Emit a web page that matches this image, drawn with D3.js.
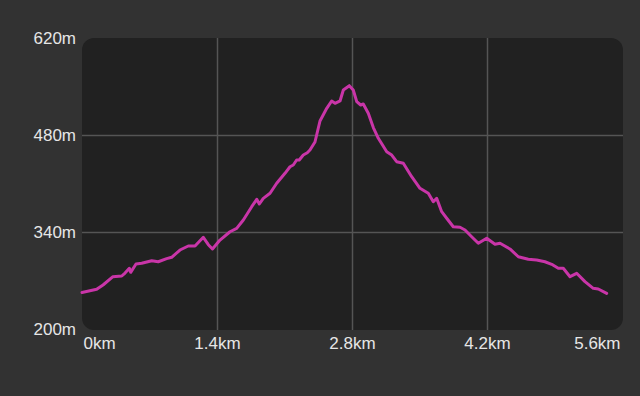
<!DOCTYPE html>
<html>
<head>
<meta charset="utf-8">
<script src="https://cdn.jsdelivr.net/npm/d3@7"></script>
<style>
  html, body { margin: 0; padding: 0; background: #323232; }
  svg { display: block; }
  text { font-family: "Liberation Sans", Arial, Helvetica, sans-serif; }
</style>
</head>
<body>
<svg id="chart" width="640" height="396"></svg>
<script>
const distanceKm = [0.00,0.152,0.218,0.321,0.412,0.446,0.491,0.505,0.560,0.619,0.723,0.791,0.878,0.930,1.016,1.102,1.172,1.258,1.310,1.353,1.431,1.535,1.604,1.673,1.760,1.812,1.839,1.880,1.950,2.019,2.105,2.157,2.191,2.226,2.253,2.295,2.336,2.364,2.416,2.468,2.538,2.589,2.624,2.676,2.710,2.772,2.813,2.849,2.890,2.917,2.969,3.021,3.073,3.160,3.212,3.263,3.332,3.419,3.505,3.591,3.643,3.678,3.730,3.782,3.850,3.920,3.972,4.041,4.110,4.197,4.283,4.335,4.438,4.525,4.628,4.715,4.801,4.871,4.939,4.991,5.061,5.130,5.216,5.302,5.354,5.441];
const elevationM = [252.7,257.3,263.5,275.5,276.5,280.8,287.6,281.8,293.8,294.8,298.6,297.1,301.5,303.5,314.0,319.8,319.8,332.3,321.7,315.5,328.4,340.4,345.3,357.3,376.5,387.2,380.4,388.6,395.9,410.3,424.7,434.2,436.7,443.9,443.9,451.1,454.4,458.3,469.9,500.2,518.5,529.1,525.8,529.1,545.0,551.2,545.0,528.1,523.3,524.7,511.3,490.8,475.2,455.9,451.1,441.5,439.2,419.8,403.1,395.9,383.7,388.6,369.3,359.8,347.6,346.8,342.9,333.2,323.7,330.9,322.2,323.7,315.5,304.3,300.6,299.6,297.1,293.4,287.6,287.6,275.5,280.4,268.3,258.7,257.7,251.5];
const xTicks = [0, 1.4, 2.8, 4.2, 5.6];
const xTickLabels = ["0km", "1.4km", "2.8km", "4.2km", "5.6km"];
const yTicks = [200, 340, 480, 620];
const yTickLabels = ["200m", "340m", "480m", "620m"];

const svg = d3.select("#chart");
const pLeft = 82, pRight = 622, pTop = 38, pBottom = 329;
const x = d3.scaleLinear().domain([0, 5.6]).range([pLeft, pRight]);
const y = d3.scaleLinear().domain([200, 620]).range([pBottom, pTop]);

// plot background
svg.append("rect")
  .attr("x", pLeft).attr("y", pTop)
  .attr("width", pRight - pLeft + 1).attr("height", pBottom - pTop + 1)
  .attr("rx", 12).attr("ry", 12)
  .attr("fill", "#212121");

// grid
const grid = svg.append("g").attr("stroke", "#555555").attr("stroke-width", 1.5);
grid.selectAll("line.v").data(xTicks.slice(1, -1)).join("line")
  .attr("x1", d => Math.round(x(d)) + 0.5).attr("x2", d => Math.round(x(d)) + 0.5)
  .attr("y1", pTop).attr("y2", pBottom + 1);
grid.selectAll("line.h").data(yTicks.slice(1, -1)).join("line")
  .attr("y1", d => Math.round(y(d)) + 0.5).attr("y2", d => Math.round(y(d)) + 0.5)
  .attr("x1", pLeft).attr("x2", pRight + 1);

// line
const pts = distanceKm.map((d, i) => [d, elevationM[i]]);
svg.append("path")
  .datum(pts)
  .attr("fill", "none")
  .attr("stroke", "#c935a8")
  .attr("stroke-width", 3)
  .attr("stroke-linejoin", "round")
  .attr("stroke-linecap", "round")
  .attr("d", d3.line().x(d => x(d[0])).y(d => y(d[1])));

// y axis labels
const yAxis = d3.axisLeft(y).tickValues(yTicks).tickSize(0).tickPadding(0)
  .tickFormat((d, i) => yTickLabels[i]);
const gy = svg.append("g").attr("transform", `translate(${pLeft - 6},0)`).call(yAxis);
gy.select(".domain").remove();
gy.selectAll("text").attr("fill", "#e6e6e6").attr("font-size", 17)
  .attr("font-family", "'Liberation Sans', Arial, sans-serif");

// x axis labels
const xAxis = d3.axisBottom(x).tickValues(xTicks).tickSize(0).tickPadding(0)
  .tickFormat((d, i) => xTickLabels[i]);
const gx = svg.append("g").attr("transform", `translate(0,${pBottom + 8})`).call(xAxis);
gx.select(".domain").remove();
gx.selectAll("text").attr("fill", "#e6e6e6").attr("font-size", 17)
  .attr("font-family", "'Liberation Sans', Arial, sans-serif")
  .attr("dy", "0.71em")
  .attr("text-anchor", (d, i) => i === 0 ? "start" : (i === xTicks.length - 1 ? "end" : "middle"))
  .attr("dx", (d, i) => i === 0 ? 1 : (i === xTicks.length - 1 ? -2 : 0));
</script>
</body>
</html>
